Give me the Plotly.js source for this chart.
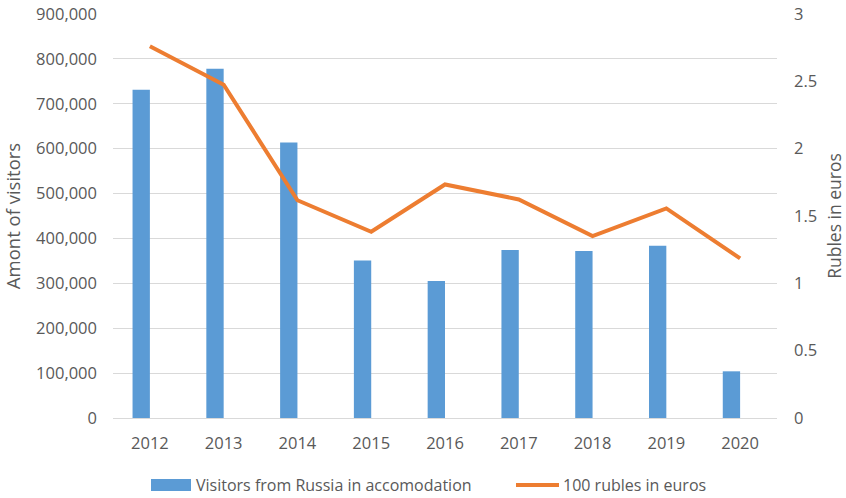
<!DOCTYPE html>
<html>
<head>
<meta charset="utf-8">
<script src="https://cdn.plot.ly/plotly-3.0.1.min.js"></script>
<style>html,body{margin:0;padding:0;background:#fff;}#chart{width:846px;height:498px;}</style>
</head>
<body>
<div id="chart"></div>
<script>
var years = ['2012','2013','2014','2015','2016','2017','2018','2019','2020'];
var visitors = [731000, 778000, 614000, 351000, 305000, 374000, 372000, 384000, 104000];
var rublesInEuros = [2.76, 2.475, 1.617, 1.383, 1.734, 1.623, 1.351, 1.556, 1.185];
var leftTicks = [0,100000,200000,300000,400000,500000,600000,700000,800000,900000];
var rightTicks = [0,0.5,1,1.5,2,2.5,3];
var seriesNames = ['Visitors from Russia in accomodation', '100 rubles in euros'];

var txt = '#595959';
var fnt = {family: 'Open Sans, sans-serif', size: 16, color: txt};
var tickFnt = {family: 'Open Sans, sans-serif', size: 16.5, color: txt};
var blue = '#5B9BD5', orange = '#ED7D31';

var traces = [
  {
    type: 'bar', x: years, y: visitors, name: seriesNames[0],
    marker: {color: blue}, width: 0.235, offset: -0.235, yaxis: 'y'
  },
  {
    type: 'scatter', mode: 'lines', x: years, y: rublesInEuros, name: seriesNames[1],
    line: {color: orange, width: 4}, yaxis: 'y2'
  }
];

// plot area: x 113..777, y 14..418
function px(x) { return (x - 113) / 664; }
function py(y) { return (418 - y) / 404; }

var layout = {
  width: 846, height: 498,
  margin: {l: 113, r: 69, t: 14, b: 80, autoexpand: false},
  paper_bgcolor: '#fff', plot_bgcolor: '#fff',
  font: fnt,
  showlegend: false,
  xaxis: {
    type: 'category', showgrid: false, showline: true, linecolor: '#D9D9D9', linewidth: 1,
    ticks: '', tickfont: tickFnt, zeroline: false, ticklabelstandoff: 10
  },
  yaxis: {
    range: [0, 900000], tickvals: leftTicks, tickformat: ',d', showgrid: true, gridcolor: '#D9D9D9', gridwidth: 1,
    zeroline: false, showline: false, ticks: '', tickfont: tickFnt, ticklabelstandoff: 15,
    title: {text: 'Amont of visitors', font: {family: 'Open Sans, sans-serif', size: 18.5, color: txt}, standoff: 10}
  },
  yaxis2: {
    overlaying: 'y', side: 'right', range: [0, 3], tickvals: rightTicks, showgrid: false, zeroline: false,
    showline: false, ticks: '', tickfont: tickFnt, ticklabelstandoff: 16,
    title: {text: 'Rubles in euros', font: {family: 'Open Sans, sans-serif', size: 17.5, color: txt}, standoff: 16}
  },
  shapes: [
    {type: 'rect', xref: 'paper', yref: 'paper', x0: px(151), x1: px(191), y0: py(491), y1: py(479), fillcolor: blue, line: {width: 0}},
    {type: 'line', xref: 'paper', yref: 'paper', x0: px(516), x1: px(559), y0: py(485), y1: py(485), line: {color: orange, width: 4}}
  ],
  annotations: [
    {xref: 'paper', yref: 'paper', x: px(194), y: py(485), xanchor: 'left', yanchor: 'middle', text: seriesNames[0], showarrow: false, font: fnt},
    {xref: 'paper', yref: 'paper', x: px(561), y: py(485), xanchor: 'left', yanchor: 'middle', text: seriesNames[1], showarrow: false, font: fnt}
  ]
};

Plotly.newPlot('chart', traces, layout, {displayModeBar: false, staticPlot: true});
</script>
</body>
</html>
